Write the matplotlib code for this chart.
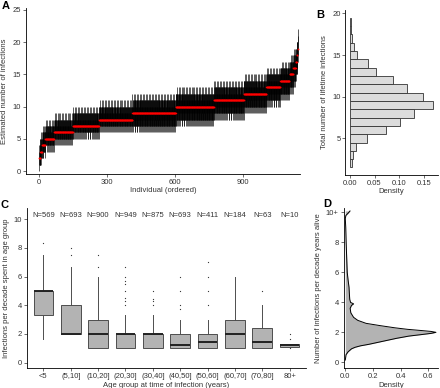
import matplotlib
matplotlib.use("Agg")
import matplotlib.pyplot as plt
import numpy as np

plt.rcParams['font.family'] = ['Liberation Sans', 'DejaVu Sans']
plt.rcParams['font.size'] = 5.5

# ---- panel A / B data: median estimates per individual (run lengths) ----
median_vals = [2, 3, 4, 5, 6, 7, 8, 9, 10, 11, 12, 13, 14, 15, 16, 17, 18, 19]
median_counts = [6, 7, 14, 39, 83, 115, 147, 191, 168, 132, 99, 61, 41, 16, 11, 5, 3, 2]
ci_lo_main = [1, 2, 3, 4, 5, 6, 7, 7, 8, 9, 10, 11, 12, 13, 14, 15, 16, 17]
ci_hi_main = [4, 5, 6, 7, 8, 9, 10, 11, 12, 13, 14, 15, 16, 17, 18, 19, 20, 21]
# read-off jaggedness of the interval ends (repeats along each run)
hi_jag = [0, -1, 0, 1, 0, -1, 0, 0, 1, -1, 0, 0, -1]
lo_jag = [0, -1, 0, 0, 1, 0, -1, 0, 1]

# ---- panel C data ----
age_groups = ['<5', '(5,10]', '(10,20]', '(20,30]', '(30,40]', '(40,50]',
              '(50,60]', '(60,70]', '(70,80]', '80+']
group_n = [569, 693, 900, 949, 875, 693, 411, 184, 63, 10]
box_q1 = [3.33, 2.0, 1.0, 1.0, 1.0, 1.0, 1.0, 1.0, 1.0, 1.11]
box_med = [5.0, 2.0, 2.0, 2.0, 2.0, 1.25, 1.43, 2.0, 1.43, 1.2]
box_q3 = [5.0, 4.0, 3.0, 2.0, 2.0, 2.0, 2.0, 3.0, 2.44, 1.33]
whisk_lo = [1.67, 2.0, 1.0, 1.0, 1.0, 1.0, 1.0, 1.0, 1.0, 1.11]
whisk_hi = [7.5, 6.67, 6.0, 3.33, 3.33, 3.0, 3.0, 6.0, 4.0, 1.33]
outliers = [[8.33], [7.5, 8.0], [6.67, 7.5],
            [4.0, 4.29, 4.5, 5.0, 5.5, 5.71, 6.0, 6.67],
            [4.0, 4.29, 4.44, 5.0], [3.75, 4.0, 5.0, 6.0],
            [4.0, 5.0, 6.0, 7.0], [], [5.0], [1.0, 1.67, 2.0]]

# ---- panel D data: density of infections per decade alive ----
dens_y = [0.15, 0.5, 0.7, 0.9, 1.0, 1.1, 1.2, 1.4, 1.6, 1.75, 1.85, 1.93, 2.0,
          2.06, 2.12, 2.2, 2.3, 2.45, 2.6, 2.8, 3.0, 3.3, 3.6, 3.8, 3.9, 4.0,
          4.2, 4.5, 5.0, 5.5, 6.0, 7.0, 8.0, 9.0, 9.6, 9.8, 9.95, 10.1]
dens_x = [0.0, 0.005, 0.02, 0.045, 0.07, 0.11, 0.17, 0.27, 0.37, 0.46, 0.55,
          0.62, 0.655, 0.62, 0.55, 0.45, 0.36, 0.25, 0.15, 0.09, 0.06, 0.04,
          0.035, 0.045, 0.06, 0.038, 0.032, 0.03, 0.027, 0.02, 0.014, 0.01,
          0.006, 0.003, 0.0, 0.004, 0.02, 0.034]

text_col = '#333333'


def style(ax):
    for s in ['top', 'right']:
        ax.spines[s].set_visible(False)
    for s in ['left', 'bottom']:
        ax.spines[s].set_linewidth(0.6)
    ax.tick_params(length=2, width=0.5, colors=text_col, labelsize=5.5, pad=1.5)


fig = plt.figure(figsize=(4.4, 3.88), dpi=100)

# ---------------- A ----------------
axA = fig.add_axes([0.059, 0.5515, 0.623, 0.427])
medians, lo, hi = [], [], []
k = 0
for m, c, l0, h0 in zip(median_vals, median_counts, ci_lo_main, ci_hi_main):
    for i in range(c):
        medians.append(m)
        hi.append(h0 + hi_jag[k % len(hi_jag)])
        lo.append(l0 + lo_jag[k % len(lo_jag)])
        k += 1
ind = np.arange(1, len(medians) + 1)
axA.vlines(ind, lo, hi, color='black', lw=0.45)
axA.plot(ind, medians, 's', ms=1.0, color='red', mec='none')
axA.set_xlim(-57, 1150)
axA.set_ylim(-0.45, 25.25)
axA.set_xticks([0, 300, 600, 900])
axA.set_yticks([0, 5, 10, 15, 20, 25])
axA.set_xlabel('Individual (ordered)', color=text_col, labelpad=1)
axA.set_ylabel('Estimated number of infections', color=text_col, labelpad=3)
style(axA)

# ---------------- B ----------------
axB = fig.add_axes([0.785, 0.549, 0.2105, 0.425])
axB.hist(medians, bins=np.arange(1.5, 20, 1), density=True,
         orientation='horizontal', color='#dcdcdc', edgecolor='#333333', lw=0.6)
axB.set_xlim(-0.0085, 0.1775)
axB.set_ylim(0.6, 20.4)
axB.set_xticks([0.0, 0.05, 0.10, 0.15])
axB.set_xticklabels(['0.00', '0.05', '0.10', '0.15'])
axB.set_yticks([5, 10, 15, 20])
axB.set_xlabel('Density', color=text_col, labelpad=1)
axB.set_ylabel('Total number of lifetime infections', color=text_col, labelpad=3)
style(axB)

# ---------------- C ----------------
axC = fig.add_axes([0.0614, 0.0508, 0.634, 0.412])
stats = []
for i in range(len(age_groups)):
    stats.append(dict(med=box_med[i], q1=box_q1[i], q3=box_q3[i],
                      whislo=whisk_lo[i], whishi=whisk_hi[i],
                      fliers=outliers[i], label=age_groups[i]))
axC.bxp(stats, positions=np.arange(1, 11), widths=0.72, patch_artist=True,
        boxprops=dict(facecolor='#b3b3b3', edgecolor='#4d4d4d', lw=0.7),
        medianprops=dict(color='#222222', lw=1.4),
        whiskerprops=dict(color='#4d4d4d', lw=0.7),
        capprops=dict(lw=0),
        flierprops=dict(marker='o', ms=0.9, mfc='#333333', mec='none'))
for i, n in enumerate(group_n):
    axC.text(i + 1, 10.28, f'N={n}', ha='center', va='center',
             fontsize=5.5, color=text_col)
axC.set_xlim(0.4, 10.6)
axC.set_ylim(-0.39, 10.75)
axC.set_yticks([0, 2, 4, 6, 8, 10])
axC.set_xlabel('Age group at time of infection (years)', color=text_col, labelpad=1)
axC.set_ylabel('Infections per decade spent in age group', color=text_col, labelpad=3)
style(axC)

# ---------------- D ----------------
axD = fig.add_axes([0.781, 0.0508, 0.2145, 0.412])
axD.fill_betweenx(dens_y, 0, dens_x, color='#b3b3b3', lw=0)
axD.plot(dens_x, dens_y, color='black', lw=0.7)
axD.set_xlim(-0.012, 0.67)
axD.set_ylim(-0.4, 10.27)
axD.set_xticks([0.0, 0.2, 0.4, 0.6])
axD.set_yticks([0, 2, 4, 6, 8, 10])
axD.set_yticklabels(['0', '2', '4', '6', '8', '10+'])
axD.set_xlabel('Density', color=text_col, labelpad=1)
axD.set_ylabel('Number of infections per decade years alive', color=text_col, labelpad=3)
style(axD)

for lab, x, y in [('A', 0.004, 0.998), ('B', 0.718, 0.975),
                  ('C', 0.002, 0.485), ('D', 0.735, 0.487)]:
    fig.text(x, y, lab, fontsize=8, fontweight='bold', va='top', ha='left')

fig.savefig('out.png', dpi=100)
